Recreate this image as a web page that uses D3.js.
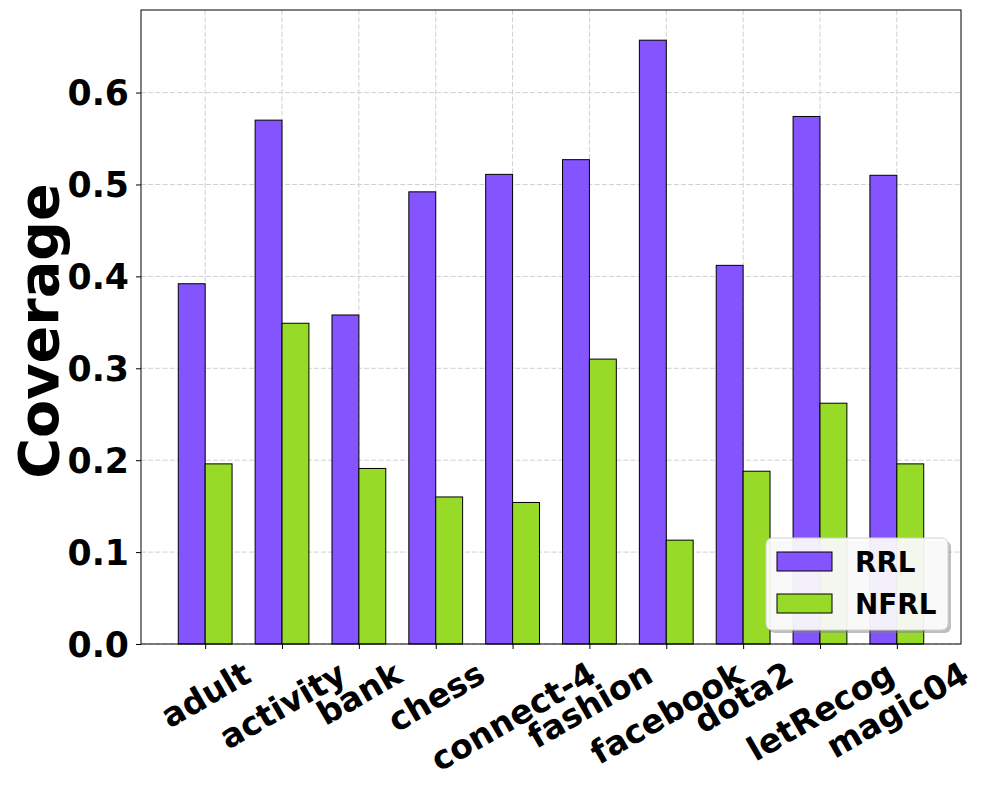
<!DOCTYPE html>
<html>
<head>
<meta charset="utf-8">
<script src="https://cdn.jsdelivr.net/npm/d3@7"></script>
<style>
  body { margin: 0; background: #fff; }
  text { font-family: 'DejaVu Sans', sans-serif; font-weight: bold; }
</style>
</head>
<body>
<svg id="viz"></svg>
<script>
const categories = ['adult', 'activity', 'bank', 'chess', 'connect-4', 'fashion', 'facebook', 'dota2', 'letRecog', 'magic04'];
const rrlValues = [0.392, 0.570, 0.358, 0.492, 0.511, 0.527, 0.657, 0.412, 0.574, 0.510];
const nfrlValues = [0.196, 0.349, 0.191, 0.160, 0.154, 0.310, 0.113, 0.188, 0.262, 0.196];
const yTicks = [0.0, 0.1, 0.2, 0.3, 0.4, 0.5, 0.6];
const seriesNames = ['RRL', 'NFRL'];
const colorSet = ['#8454ff', '#97db28'];

const W = 986, H = 790;
const margin = { top: 10, right: 25, bottom: 146, left: 141 };
const width = W - margin.left - margin.right;
const height = H - margin.top - margin.bottom;
const barW = 0.35;

var svg = d3.select('#viz').attr('width', W).attr('height', H);
var g = svg.append('g').attr('transform', 'translate(' + margin.left + ',' + margin.top + ')');

// matplotlib style auto limits (5% margins)
const xLo = -barW - 0.05 * (categories.length - 1 + 2 * barW);
const xHi = categories.length - 1 + barW + 0.05 * (categories.length - 1 + 2 * barW);
const x = d3.scaleLinear().domain([xLo, xHi]).range([0, width]);
const y = d3.scaleLinear().domain([0, d3.max(rrlValues) * 1.05]).range([height, 0]);

// grid
const gridStyle = (sel) => sel.attr('stroke', '#d0d0d0').attr('stroke-width', 1).attr('stroke-dasharray', '5,2.2');
g.append('g').selectAll('line').data(yTicks).join('line')
  .attr('x1', 0).attr('x2', width)
  .attr('y1', (d) => y(d)).attr('y2', (d) => y(d))
  .call(gridStyle);
g.append('g').selectAll('line').data(categories.map((c, i) => i)).join('line')
  .attr('y1', 0).attr('y2', height)
  .attr('x1', (d) => x(d)).attr('x2', (d) => x(d))
  .call(gridStyle);

// bars
[rrlValues, nfrlValues].forEach(function (vals, s) {
  g.append('g').selectAll('rect').data(vals).join('rect')
    .attr('x', (d, i) => x(i - barW + s * barW))
    .attr('width', x(barW) - x(0))
    .attr('y', (d) => y(d))
    .attr('height', (d) => y(0) - y(d))
    .attr('fill', colorSet[s])
    .attr('stroke', 'black')
    .attr('stroke-width', 1);
});

// axes
var yAxis = g.append('g')
  .call(d3.axisLeft(y).tickValues(yTicks).tickFormat(d3.format('.1f')).tickSize(5).tickPadding(7));
yAxis.select('.domain').remove();
yAxis.selectAll('text').attr('font-size', 34.7).attr('fill', 'black').attr('dy', '0.35em');

var xAxis = g.append('g').attr('transform', 'translate(0,' + height + ')')
  .call(d3.axisBottom(x).tickValues(categories.map((c, i) => i)).tickFormat((i) => categories[i]).tickSize(5));
xAxis.select('.domain').remove();
xAxis.selectAll('text').each(function () {
  var t = d3.select(this);
  var fs = 33;
  t.attr('font-size', fs).attr('fill', 'black').attr('text-anchor', 'middle').attr('y', 0).attr('dy', '0.346em');
  var w = this.getComputedTextLength();
  var bh = w * 0.5 + 1.164 * fs * Math.cos(Math.PI / 6);
  t.attr('transform', 'translate(0,' + (10 + bh / 2) + ') rotate(-30)');
});

// frame
g.append('rect').attr('width', width).attr('height', height)
  .attr('fill', 'none').attr('stroke', 'black').attr('stroke-width', 1);

// y label
svg.append('text')
  .attr('transform', 'translate(58,' + (margin.top + height / 2 + 4) + ') rotate(-90)')
  .attr('text-anchor', 'middle')
  .attr('font-size', 55.6)
  .text('Coverage');

// legend
var lg = svg.append('g').attr('transform', 'translate(766,538)');
lg.append('rect').attr('x', 3).attr('y', 3).attr('width', 182).attr('height', 92).attr('rx', 6)
  .attr('fill', '#808080').attr('opacity', 0.5);
lg.append('rect').attr('width', 182).attr('height', 92).attr('rx', 6)
  .attr('fill', 'white').attr('fill-opacity', 0.9).attr('stroke', '#d0d0d0');
seriesNames.forEach(function (name, i) {
  lg.append('rect').attr('x', 11).attr('y', 14 + i * 42).attr('width', 55).attr('height', 19)
    .attr('fill', colorSet[i]).attr('stroke', 'black');
  lg.append('text').attr('x', 89).attr('y', 24 + i * 42).attr('dy', '0.35em')
    .attr('font-size', 27.8).text(name);
});
</script>
</body>
</html>
